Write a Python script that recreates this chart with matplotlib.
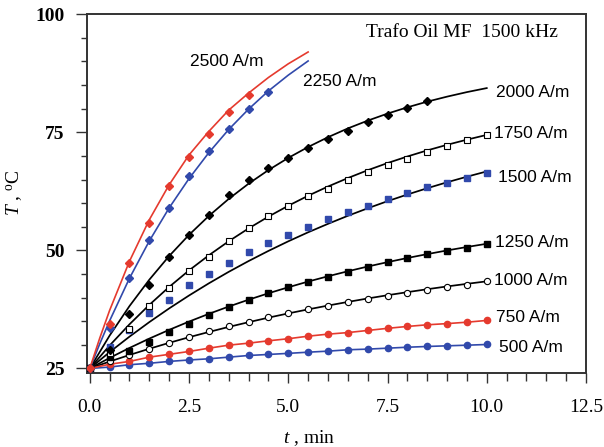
import matplotlib
matplotlib.use("Agg")
from matplotlib import pyplot as plt
from matplotlib.ticker import MultipleLocator

plt.rcParams['mathtext.fontset'] = 'custom'
plt.rcParams['mathtext.rm'] = 'Liberation Serif'
plt.rcParams['mathtext.it'] = 'Liberation Serif:italic'

# 时间轴 (min)
t_full = [0.0, 0.5, 1.0, 1.5, 2.0, 2.5, 3.0, 3.5, 4.0, 4.5, 5.0,
          5.5, 6.0, 6.5, 7.0, 7.5, 8.0, 8.5, 9.0, 9.5, 10.0]
t_2000 = t_full[:18]
t_2250 = t_full[:10]
t_2500 = t_full[:9]
t_fast = [0.0, 0.25, 0.5, 1.0, 1.5, 2.0, 2.5, 3.0, 3.5, 4.0, 4.5, 5.0, 5.5]

# 测量点 (°C)
T500 = [25.0, 25.3, 25.8, 26.1, 26.5, 26.8, 27.05, 27.4, 27.75, 27.97, 28.2,
        28.45, 28.67, 28.96, 29.1, 29.3, 29.5, 29.66, 29.8, 29.93, 30.08]
T750 = [25.0, 25.9, 26.5, 27.4, 28.0, 28.6, 29.3, 29.94, 30.36, 30.86, 31.3,
        31.84, 32.27, 32.6, 33.05, 33.5, 33.9, 34.25, 34.5, 34.8, 35.17]
T1000 = [25.0, 26.6, 27.75, 29.03, 30.36, 31.63, 32.84, 33.9, 34.75, 35.87, 36.65,
         37.5, 38.3, 39.05, 39.77, 40.4, 41.04, 41.67, 42.16, 42.7, 43.43]
T1250 = [25.0, 27.4, 28.6, 30.65, 32.7, 34.5, 36.3, 38.0, 39.55, 40.95, 42.2,
         43.4, 44.35, 45.5, 46.5, 47.46, 48.3, 49.15, 49.85, 50.6, 51.4]
T1500 = [25.0, 29.5, 33.2, 36.7, 39.6, 42.6, 45.0, 47.3, 49.6, 51.55, 53.3,
         54.9, 56.7, 58.1, 59.4, 60.95, 62.15, 63.35, 64.26, 65.4, 66.4]
T1750 = [25.0, 28.3, 33.26, 38.2, 42.0, 45.6, 48.7, 51.9, 54.7, 57.25, 59.5,
         61.45, 63.1, 64.8, 66.5, 68.0, 69.4, 70.8, 72.0, 73.3, 74.5]
T2000 = [25.0, 29.0, 36.6, 42.7, 48.6, 53.3, 57.5, 61.8, 65.0, 67.5, 69.6,
         71.65, 73.5, 75.3, 77.1, 78.7, 80.1, 81.6]
T2250 = [25.0, 33.5, 44.1, 52.2, 59.0, 65.7, 71.0, 75.8, 79.9, 83.6]
T2500 = [25.0, 34.4, 47.4, 55.9, 63.65, 69.8, 74.7, 79.4, 83.0]

# 拟合曲线
F1000 = [25.0, 26.47, 27.86, 29.18, 30.43, 31.62, 32.73, 33.80, 34.80, 35.76, 36.66,
         37.51, 38.32, 39.09, 39.82, 40.51, 41.16, 41.78, 42.37, 42.92, 43.45]
F1250 = [25.0, 27.24, 29.35, 31.33, 33.18, 34.93, 36.57, 38.11, 39.56, 40.92, 42.19,
         43.40, 44.52, 45.58, 46.58, 47.51, 48.39, 49.21, 49.99, 50.72, 51.40]
F1500 = [25.0, 28.47, 31.74, 34.82, 37.72, 40.45, 43.03, 45.46, 47.74, 49.89, 51.92,
         53.83, 55.62, 57.32, 58.91, 60.42, 61.83, 63.16, 64.42, 65.60, 66.72]
F1750 = [25.0, 29.87, 34.35, 38.47, 42.27, 45.76, 48.97, 51.93, 54.65, 57.15, 59.45,
         61.57, 63.52, 65.31, 66.97, 68.49, 69.88, 71.17, 72.35, 73.44, 74.45]
F2000 = [25.0, 31.97, 38.21, 43.80, 48.81, 53.29, 57.30, 60.90, 64.12, 67.0, 69.58,
         71.89, 73.96, 75.82, 77.47, 78.96, 80.29, 81.49, 82.55, 83.51, 84.36]
F2250 = [25.0, 30.2, 35.1, 44.1, 52.0, 59.0, 65.2, 70.7, 75.6, 79.9, 83.75, 87.1, 90.1]
F2500 = [25.0, 31.4, 37.3, 47.7, 56.5, 63.9, 70.2, 75.2, 79.7, 83.3, 86.6, 89.5, 92.0]

labels = ['2500 A/m', '2250 A/m', '2000 A/m', '1750 A/m', '1500 A/m',
          '1250 A/m', '1000 A/m', '750 A/m', '500 A/m']
label_x = [2.53, 5.37, 10.24, 10.17, 10.28, 10.2, 10.17, 10.23, 10.32]
label_y = [90.0, 85.65, 83.5, 74.85, 65.4, 51.6, 43.6, 35.7, 29.5]

red = '#e53a2e'
blue = '#3149ab'

fig = plt.figure(figsize=(6.04, 4.47), dpi=100)
ax = fig.add_axes([87 / 604, 1 - 372.5 / 447, 499 / 604, 359 / 447])

# 拟合线
for F in [F1000, F1250, F1500, F1750, F2000]:
    ax.plot(t_full, F, color='black', lw=1.25, zorder=2)
ax.plot(t_fast, F2250, color=blue, lw=1.2, zorder=2)
ax.plot(t_fast, F2500, color=red, lw=1.2, zorder=2)

# 数据点
ax.plot(t_full, T500, '-o', color=blue, lw=1.2, ms=4.5, zorder=3)
ax.plot(t_full, T750, '-o', color=red, lw=1.2, ms=4.5, zorder=3)
ax.plot(t_full, T1000, 'o', mfc='white', mec='black', mew=0.8, ms=4.5, zorder=3)
ax.plot(t_full, T1250, 's', color='black', ms=4.5, zorder=3)
ax.plot(t_full, T1500, 's', color=blue, ms=4.8, zorder=3)
ax.plot(t_full, T1750, 's', mfc='white', mec='black', mew=0.8, ms=4.8, zorder=3)
ax.plot(t_2000, T2000, 'D', color='black', ms=4.2, zorder=3)
ax.plot(t_2250, T2250, 'D', color=blue, ms=4.2, zorder=3)
ax.plot(t_2500, T2500, 'D', color=red, ms=4.2, zorder=3)

for lab, x, y in zip(labels, label_x, label_y):
    ax.text(x, y, lab, fontsize=12.5, family='Liberation Sans', ha='left', va='center')

ax.text(11.78, 96.2, 'Trafo Oil MF  1500 kHz', fontsize=14, family='Liberation Serif',
        ha='right', va='center')

ax.set_xlim(-0.07, 12.5)
ax.set_ylim(24.15, 100.15)
ax.xaxis.set_major_locator(MultipleLocator(2.5))
ax.xaxis.set_minor_locator(MultipleLocator(0.5))
ax.yaxis.set_major_locator(MultipleLocator(25))
ax.yaxis.set_minor_locator(MultipleLocator(5))
ax.set_xticks([0, 2.5, 5, 7.5, 10, 12.5])
ax.set_xticklabels(['0.0', '2.5', '5.0', '7.5', '10.0', '12.5'], family='Liberation Serif', fontsize=14)
ax.set_yticks([25, 50, 75, 100])
ax.set_yticklabels(['25', '50', '75', '100'], family='Liberation Serif', fontsize=14, fontweight='bold')

ax.tick_params(axis='x', which='major', length=7, width=1, pad=12, color='#333333')
ax.tick_params(axis='x', which='minor', length=6, width=1, color='#333333')
ax.tick_params(axis='y', which='major', length=8, width=1, pad=8, color='#333333')
ax.tick_params(axis='y', which='minor', length=4, width=1, color='#333333')
for s in ax.spines.values():
    s.set_linewidth(1.4)
    s.set_color('#333333')

ax.set_xlabel(r'$t$ , min', fontsize=14, family='Liberation Serif')
ax.xaxis.set_label_coords(0.445, -0.155)
ax.set_ylabel(r'$T$ , $^{\rm o}$C', fontsize=14, family='Liberation Serif')
ax.yaxis.set_label_coords(-0.125, 0.5)

fig.savefig('out.png', dpi=100)
